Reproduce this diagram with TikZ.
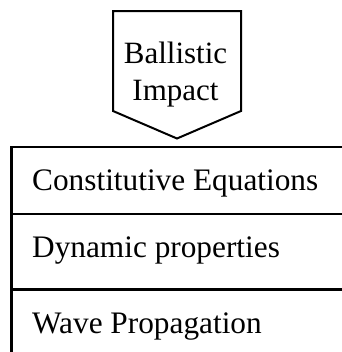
\documentclass[tikz,border=0pt]{standalone}
\usepackage{fontspec}
\setmainfont{Liberation Serif}
\begin{document}
\begin{tikzpicture}[x=1bp,y=-1bp,
  lbl/.style={anchor=base west,inner sep=0pt,font=\fontsize{31.3bp}{37bp}\selectfont},
  edge/.style={line width=2bp,line join=miter}]
\useasboundingbox (0,0) rectangle (342,352);
\clip (0,0) rectangle (342,352);
% pentagon arrow
\coordinate (pa) at (113,11);
\coordinate (pb) at (241,11);
\coordinate (pc) at (241,111);
\coordinate (pt) at (177,138.5);
\coordinate (pd) at (113,111);
\draw[edge] (pa) -- (pb) -- (pc) -- (pt) -- (pd) -- cycle;
\node[inner sep=0pt,align=center,font=\fontsize{31bp}{37bp}\selectfont,anchor=base] (bi) at (175.5,100) {Ballistic\\Impact};
% stacked box
\coordinate (bl) at (11.5,147);
\coordinate (br) at (360,147);
\coordinate (bb) at (11.5,370);
\coordinate (l1a) at (11.5,214);
\coordinate (l1b) at (360,214);
\coordinate (l2a) at (11.5,289);
\coordinate (l2b) at (360,289);
\draw[edge] (bb) -- (bl) -- (br);
\draw[edge] (l1a) -- (l1b);
\draw[line width=3bp] (l2a) -- (l2b);
\node[lbl] (ce) at (32,190) {Constitutive Equations};
\node[lbl] (dp) at (32,257) {Dynamic properties};
\node[lbl] (wp) at (32,333) {Wave Propagation};
\end{tikzpicture}
\end{document}
